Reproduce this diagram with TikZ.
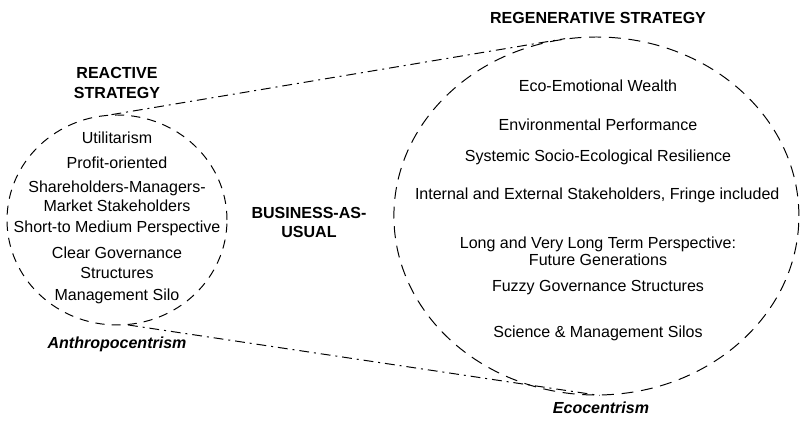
\documentclass[tikz,border=0pt]{standalone}
\usepackage{fontspec}
\setmainfont{Liberation Sans}
\usetikzlibrary{shapes.geometric}
\tikzset{
    zone/.style = {draw, ellipse, inner sep=0pt, line width=0.7pt, dash pattern=on 6.5pt off 5pt},
    link/.style = {line width=0.7pt, dash pattern=on 7pt off 3.5pt on 1.4pt off 3.5pt},
    item/.style = {align=center, inner sep=0pt, font=\fontsize{11.4}{14}\selectfont},
    head/.style = {item, font=\fontsize{11.4}{14}\selectfont\bfseries},
    pole/.style = {item, font=\fontsize{11.4}{14}\selectfont\bfseries\itshape}
}

\begin{document}
\begin{tikzpicture}
        % fix the canvas
        \useasboundingbox (0,0) rectangle (20,10.6);

        % draw the two strategy zones
        \node[zone, minimum width=5.5cm, minimum height=5.25cm] (reactive) at (2.925,5.1) {};
        \node[zone, dash pattern=on 8.5pt off 5.5pt, minimum width=10.125cm, minimum height=8.95cm] (regen) at (14.91,5.2) {};

        % dash-dotted links between the zones
        \draw[link] (reactive.93) -- (regen.100);
        \draw[link] (reactive.-84) -- (regen.-89);

        % reactive strategy
        \node[head] (rTitle) at (2.925,8.525) {REACTIVE\\STRATEGY};
        \node[item] (rUtil) at (2.925,7.15) {Utilitarism};
        \node[item] (rProfit) at (2.925,6.525) {Profit-oriented};
        \node[item] (rShare) at (2.925,5.69) {Shareholders-Managers-\\Market Stakeholders};
        \node[item] (rShort) at (2.925,4.9) {Short-to Medium Perspective};
        \node[item] (rGov) at (2.925,4.025) {Clear Governance\\Structures};
        \node[item] (rSilo) at (2.925,3.2) {Management Silo};
        \node[pole] (rPole) at (2.925,2.0) {Anthropocentrism};

        % in between
        \node[head] (bau) at (7.725,5.04) {BUSINESS-AS-\\USUAL};

        % regenerative strategy
        \node[head] (gTitle) at (14.95,10.15) {REGENERATIVE STRATEGY};
        \node[item] (gWealth) at (14.95,8.45) {Eco-Emotional Wealth};
        \node[item] (gPerf) at (14.95,7.475) {Environmental Performance};
        \node[item] (gResil) at (14.95,6.675) {Systemic Socio-Ecological Resilience};
        \node[item] (gStake) at (14.93,5.725) {Internal and External Stakeholders, Fringe included};
        \node[item, font=\fontsize{11.4}{12}\selectfont] (gLong) at (14.95,4.31) {Long and Very Long Term Perspective:\\Future Generations};
        \node[item] (gGov) at (14.95,3.4) {Fuzzy Governance Structures};
        \node[item] (gSilo) at (14.95,2.275) {Science \& Management Silos};
        \node[pole] (gPole) at (15.025,0.4) {Ecocentrism};

\end{tikzpicture}
\end{document}
